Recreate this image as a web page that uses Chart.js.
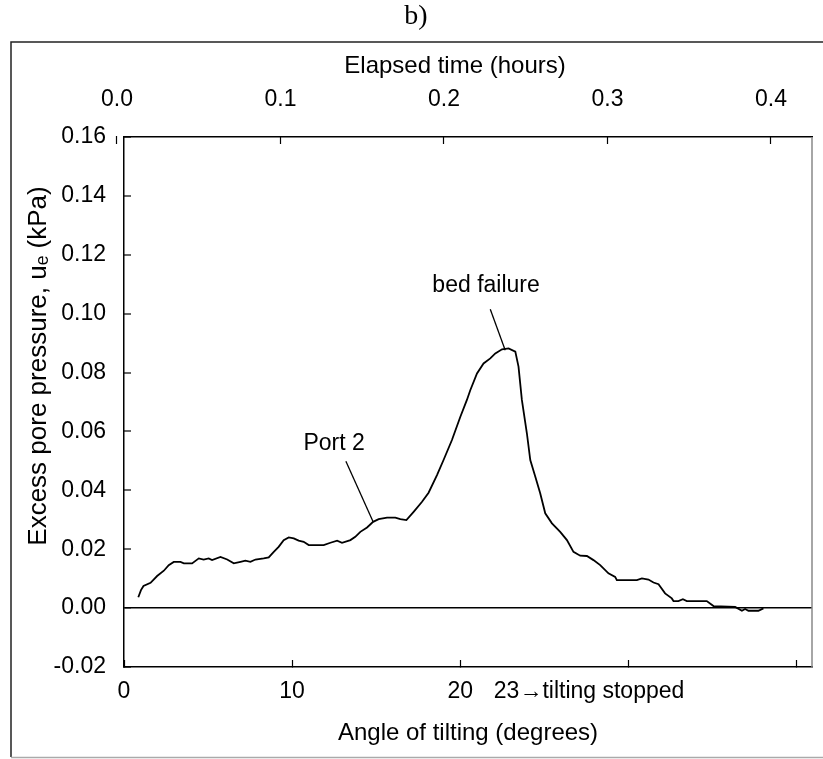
<!DOCTYPE html>
<html>
<head>
<meta charset="utf-8">
<script src="https://cdn.jsdelivr.net/npm/chart.js@4.4.1/dist/chart.umd.min.js"></script>
<style>
    html, body { margin: 0; padding: 0; background: #fff; }
</style>
</head>
<body>
<canvas id="porePressure" width="823" height="759"></canvas>
<script>
// angle of tilting (degrees) vs excess pore pressure (kPa)
var angleDeg = [0.85, 1.01, 1.16, 1.58, 1.97, 2.37, 2.66, 2.96, 3.36, 3.56, 4.05, 4.45, 4.74, 5.04,
    5.24, 5.74, 6.14, 6.53, 6.93, 7.22, 7.52, 7.82, 8.31, 8.61, 8.91, 9.20, 9.50, 9.80, 10.10,
    10.39, 10.69, 10.99, 11.49, 11.88, 12.28, 12.68, 12.97, 13.47, 13.76, 14.06, 14.46, 14.82,
    15.15, 15.65, 16.14, 16.44, 16.80, 17.23, 17.73, 18.12, 18.62, 19.01, 19.51, 20.01, 20.40,
    20.60, 21.00, 21.39, 21.79, 22.09, 22.49, 22.88, 23.28, 23.47, 23.67, 23.97, 24.17, 24.47,
    24.76, 25.06, 25.46, 25.95, 26.35, 26.74, 27.14, 27.54, 27.93, 28.33, 28.82, 29.22, 29.32,
    30.51, 30.81, 31.20, 31.50, 31.80, 32.19, 32.59, 32.69, 32.98, 33.25, 33.48, 34.67, 35.07,
    36.36, 36.76, 36.95, 37.15, 37.74, 38.04];
var excessPressure = [0.0037, 0.0061, 0.0075, 0.0086, 0.0109, 0.0127, 0.0146, 0.0157, 0.0157, 0.0152,
    0.0152, 0.0169, 0.0165, 0.0169, 0.0163, 0.0174, 0.0165, 0.0152, 0.0157, 0.0161, 0.0157,
    0.0165, 0.0169, 0.0172, 0.0191, 0.0208, 0.0231, 0.0240, 0.0237, 0.0229, 0.0225, 0.0214,
    0.0214, 0.0214, 0.0222, 0.0229, 0.0222, 0.0231, 0.0242, 0.0259, 0.0274, 0.0293, 0.0302,
    0.0307, 0.0307, 0.0302, 0.0299, 0.0327, 0.0361, 0.0392, 0.0452, 0.0503, 0.0571, 0.0650,
    0.0707, 0.0740, 0.0797, 0.0831, 0.0848, 0.0865, 0.0879, 0.0882, 0.0871, 0.0820, 0.0707,
    0.0593, 0.0503, 0.0446, 0.0390, 0.0322, 0.0288, 0.0259, 0.0231, 0.0191, 0.0178, 0.0177,
    0.0163, 0.0146, 0.0118, 0.0106, 0.0095, 0.0095, 0.0101, 0.0097, 0.0087, 0.0081, 0.0050,
    0.0033, 0.0024, 0.0024, 0.0030, 0.0024, 0.0024, 0.0007, 0.0004, -0.0009, -0.0003, -0.0009,
    -0.0009, -0.0001];

var pressureTicks = [-0.02, 0, 0.02, 0.04, 0.06, 0.08, 0.10, 0.12, 0.14, 0.16];
var angleTicks = [0, 10, 20, 30, 40];
var angleLabels = ['0', '10', '20', '', ''];
var hourTicks = [0, 0.1, 0.2, 0.3, 0.4];

// call-outs (in data units of the angle / pressure axes)
var callouts = [
    { text: 'Port 2', label: [12.5, 0.056], from: [13.2, 0.0499], to: [14.82, 0.0293] },
    { text: 'bed failure', label: [21.54, 0.1094], from: [21.79, 0.1015], to: [22.68, 0.0876] }
];
var stopNote = { text: '23\u2192tilting stopped', from: 22.0 };

var sans = 'Liberation Sans, Arial, sans-serif';
var tickFont = { family: sans, size: 23 };

var points = angleDeg.map(function (a, i) {
    return { x: a, y: excessPressure[i] };
});

// page, frame, plot border, titles and notes
var decorations = {
    id: 'decorations',
    beforeDraw: function (chart) {
        var c = chart.ctx;
        c.save();
        c.fillStyle = '#fff';
        c.fillRect(0, 0, chart.width, chart.height);
        c.restore();
    },
    afterDraw: function (chart) {
        var c = chart.ctx;
        var area = chart.chartArea;
        var xs = chart.scales.x, ys = chart.scales.y;
        c.save();
        // frame
        c.strokeStyle = '#222';
        c.lineWidth = 1.5;
        c.beginPath();
        c.moveTo(11, 757);
        c.lineTo(11, 42);
        c.lineTo(823, 42);
        c.stroke();
        c.strokeStyle = '#aaa';
        c.beginPath();
        c.moveTo(11, 757.5);
        c.lineTo(823, 757.5);
        c.stroke();
        // right edge of plot
        c.strokeStyle = '#888';
        c.beginPath();
        c.moveTo(area.right, area.top);
        c.lineTo(area.right, area.bottom);
        c.stroke();

        c.fillStyle = '#000';
        c.strokeStyle = '#000';
        c.textBaseline = 'middle';

        c.font = '28px Liberation Serif, Times New Roman, serif';
        c.textAlign = 'center';
        c.fillText('b)', 416, 17);

        c.font = '24px ' + sans;
        c.fillText('Elapsed time (hours)', 455, 66);

        c.save();
        c.translate(39, 366);
        c.rotate(-Math.PI / 2);
        c.font = '26px ' + sans;
        c.fillText('Excess pore pressure, u\u2091 (kPa)', 0, 0);
        c.restore();

        c.lineWidth = 1.3;
        c.font = '23px ' + sans;
        callouts.forEach(function (o) {
            c.beginPath();
            c.moveTo(xs.getPixelForValue(o.from[0]), ys.getPixelForValue(o.from[1]));
            c.lineTo(xs.getPixelForValue(o.to[0]), ys.getPixelForValue(o.to[1]));
            c.stroke();
            c.fillText(o.text, xs.getPixelForValue(o.label[0]), ys.getPixelForValue(o.label[1]));
        });
        c.textAlign = 'left';
        c.fillText(stopNote.text, xs.getPixelForValue(stopNote.from), area.bottom + 25);
        c.restore();
    }
};

var ctx = document.getElementById('porePressure').getContext('2d');
var chart = new Chart(ctx, {
    type: 'line',
    data: {
        datasets: [{
            data: points,
            xAxisID: 'x',
            yAxisID: 'y',
            borderColor: '#000',
            borderWidth: 1.8,
            pointRadius: 0,
            tension: 0,
            fill: false
        }]
    },
    options: {
        responsive: false,
        animation: false,
        devicePixelRatio: 1,
        layout: { padding: { left: 0, right: 11, top: 42, bottom: 0 } },
        plugins: {
            legend: { display: false },
            tooltip: { enabled: false }
        },
        scales: {
            x: {
                type: 'linear',
                position: 'bottom',
                min: 0,
                max: 40.93,
                afterBuildTicks: function (s) { s.ticks = angleTicks.map(function (v) { return { value: v }; }); },
                afterFit: function (s) { s.height = 92; },
                border: { color: '#000', width: 1.5 },
                grid: { drawOnChartArea: false, tickLength: -7, tickColor: '#000', tickWidth: 1.2 },
                ticks: {
                    autoSkip: false, maxRotation: 0, padding: 18, color: '#000', font: tickFont,
                    callback: function (v, i) { return angleLabels[i]; }
                },
                title: {
                    display: true, text: 'Angle of tilting (degrees)', color: '#000',
                    font: { family: sans, size: 24 },
                    padding: { top: 11.6, bottom: 11.6 }
                }
            },
            x2: {
                type: 'linear',
                position: 'top',
                min: 0.0043,
                max: 0.4251,
                afterBuildTicks: function (s) { s.ticks = hourTicks.map(function (v) { return { value: v }; }); },
                afterFit: function (s) { s.height = 95; },
                border: { color: '#000', width: 1.5 },
                grid: { drawOnChartArea: false, tickLength: -7, tickColor: '#000', tickWidth: 1.2 },
                ticks: {
                    autoSkip: false, maxRotation: 0, padding: 31, color: '#000', font: tickFont,
                    callback: function (v) { return v.toFixed(1); }
                }
            },
            y: {
                type: 'linear',
                position: 'left',
                min: -0.02,
                max: 0.16,
                afterBuildTicks: function (s) { s.ticks = pressureTicks.map(function (v) { return { value: v }; }); },
                afterFit: function (s) { s.width = 124; },
                border: { color: '#000', width: 1.5 },
                grid: {
                    color: function (c) { return c.tick && c.tick.value === 0 ? '#000' : 'rgba(0,0,0,0)'; },
                    lineWidth: function (c) { return c.tick && c.tick.value === 0 ? 1.6 : 0; },
                    tickLength: -7, tickColor: '#000', tickWidth: 1.2
                },
                ticks: {
                    autoSkip: false, padding: 25, color: '#000', font: tickFont,
                    callback: function (v) { return v.toFixed(2); }
                }
            }
        }
    },
    plugins: [decorations]
});
</script>
</body>
</html>
